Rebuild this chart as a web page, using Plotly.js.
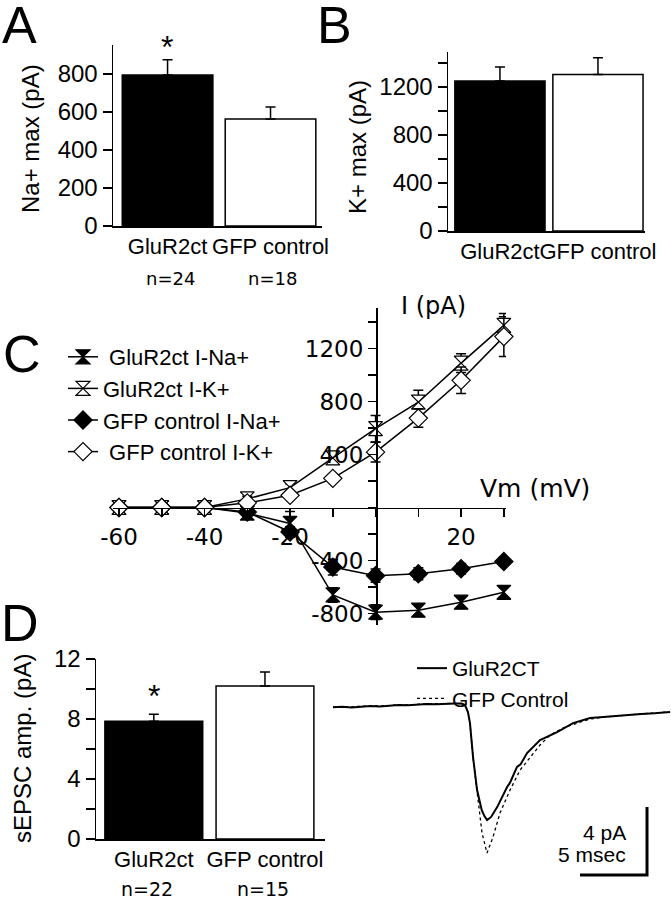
<!DOCTYPE html>
<html>
<head>
<meta charset="utf-8">
<script src="https://cdn.plot.ly/plotly-3.0.1.min.js"></script>
<style>
  body { margin: 0; background: #fff; }
  #plot { width: 671px; height: 899px; }
</style>
</head>
<body>
<div id="plot"></div>
<script>
// bar panels (A, B, D)
var groups = ['GluR2ct', 'GFP control'];
var naMax = [795, 563];
var naMaxErr = [80, 63];
var kMax = [1250, 1305];
var kMaxErr = [117, 140];
var epscAmp = [7.85, 10.2];
var epscErr = [0.47, 0.94];
var nA = ['n=24', 'n=18'];
var nD = ['n=22', 'n=15'];

// I-V curves (C)
var vm = [-60, -50, -40, -30, -20, -10, 0, 10, 20, 30];
var gluNa = [0, 0, 0, -42, -120, -660, -790, -775, -715, -640];
var gluNaErr = [10, 10, 10, 20, 90, 55, 55, 45, 40, 35];
var gluK = [0, 0, 0, 65, 150, 375, 595, 795, 1090, 1375];
var gluKErr = [10, 10, 10, 20, 30, 45, 100, 90, 70, 90];
var gfpNa = [0, 0, 0, -34, -185, -450, -515, -500, -462, -408];
var gfpNaErr = [10, 10, 10, 20, 40, 60, 50, 45, 40, 35];
var gfpK = [0, 0, 0, 35, 92, 220, 418, 675, 960, 1290];
var gfpKErr = [10, 10, 10, 15, 20, 30, 75, 70, 100, 150];

// sEPSC traces (D), ms / pA
var tGlu = [0, 0.7, 1.4, 2.1, 2.8, 3.5, 4.2, 4.9, 5.6, 6.3, 7.0, 7.7, 8.4, 9.1, 9.6, 9.85, 10.07, 10.22, 10.45, 10.75,
            11.1, 11.3, 11.5, 11.8, 12.25, 12.5, 12.99, 13.2, 13.73, 14.0, 14.48, 15.45, 16.72, 17.91, 19.18, 20.4,
            21.64, 23.0, 24.0, 25.15];
var iGlu = [-0.25, -0.22, -0.26, -0.2, -0.18, -0.2, -0.14, -0.12, -0.13, -0.08, -0.06, -0.07, -0.03, -0.02, -0.03, -0.12,
            -0.53, -1.18, -3.18, -5.12, -6.3, -6.65, -6.88, -6.7, -6.12, -5.7, -4.94, -4.7, -3.76, -3.6, -2.94, -2.18,
            -1.71, -1.18, -0.88, -0.8, -0.71, -0.64, -0.6, -0.53];
var tGfp = [0, 0.7, 1.4, 2.1, 2.8, 3.5, 4.2, 4.9, 5.6, 6.3, 7.0, 7.7, 8.4, 9.1, 9.6, 9.85, 10.07, 10.22, 10.45, 10.82,
            11.12, 11.49, 11.94, 12.46, 13.21, 13.96, 14.7, 15.45, 16.19, 17.16, 18.43, 19.18, 20.5, 21.64, 23.0,
            24.0, 25.15];
var iGfp = [-0.22, -0.24, -0.22, -0.19, -0.2, -0.17, -0.15, -0.1, -0.11, -0.07, -0.05, -0.04, -0.02, -0.02, -0.04, -0.13,
            -0.55, -1.2, -3.2, -5.7, -7.65, -8.82, -7.88, -6.47, -5.12, -3.94, -3.18, -2.47, -1.88, -1.47, -1.12,
            -0.94, -0.8, -0.72, -0.64, -0.58, -0.52];
var scaleMs = 5;
var scalePa = 4;

// pixel -> paper helpers
var W = 671, H = 899;
function px(x) { return x / W; }
function py(y) { return 1 - y / H; }

var helv = 'Liberation Sans, Arial, sans-serif';
var verd = 'DejaVu Sans, Verdana, sans-serif';

function barTrace(vals, errs, xa, ya, w) {
  return {
    type: 'bar', x: groups, y: vals, xaxis: xa, yaxis: ya, width: w,
    marker: {color: ['black', 'white'], line: {color: 'black', width: 1.5}},
    error_y: {type: 'data', symmetric: false, array: errs, arrayminus: [0, 0],
              color: 'black', thickness: 1.5, width: 5},
    showlegend: false, hoverinfo: 'skip'
  };
}

function ivTrace(name, y, err, symbol, fill) {
  return {
    type: 'scatter', mode: 'lines+markers', name: name, x: vm, y: y,
    xaxis: 'x3', yaxis: 'y3', cliponaxis: false,
    line: {color: 'black', width: 1.5},
    marker: {symbol: symbol, size: 14, color: fill, line: {color: 'black', width: 1.2}},
    error_y: {type: 'data', array: err, color: 'black', thickness: 1.5, width: 5}
  };
}

var data = [
  barTrace(naMax, naMaxErr, 'x', 'y', 0.88),
  barTrace(kMax, kMaxErr, 'x2', 'y2', 0.92),
  ivTrace('\u00a0GluR2ct I-Na+', gluNa, gluNaErr, 'hourglass', 'black'),
  ivTrace('GluR2ct I-K+', gluK, gluKErr, 'hourglass', 'white'),
  ivTrace('GFP control I-Na+', gfpNa, gfpNaErr, 'diamond', 'black'),
  ivTrace('\u00a0GFP control I-K+', gfpK, gfpKErr, 'diamond', 'white'),
  barTrace(epscAmp, epscErr, 'x4', 'y4', 0.88),
  {type: 'scatter', mode: 'lines', name: 'GluR2CT', x: tGlu, y: iGlu, xaxis: 'x5', yaxis: 'y5',
   legend: 'legend2', line: {color: 'black', width: 2}},
  {type: 'scatter', mode: 'lines', name: 'GFP Control', x: tGfp, y: iGfp, xaxis: 'x5', yaxis: 'y5',
   legend: 'legend2', line: {color: 'black', width: 1.3, dash: 'dot'}},
  {type: 'scatter', mode: 'lines', x: [23.43 - scaleMs, 23.43, 23.43], y: [-10.12, -10.12, -10.12 + scalePa],
   xaxis: 'x5', yaxis: 'y5', cliponaxis: false, showlegend: false, hoverinfo: 'skip',
   line: {color: 'black', width: 3}}
];

var tickFont = {family: helv, size: 24, color: 'black'};
var catFont = {family: helv, size: 22, color: 'black'};
var ivFont = {family: verd, size: 23, color: 'black'};
function baseAxis(extra) {
  var a = {showgrid: false, zeroline: false, showline: true, linecolor: 'black', linewidth: 1.5,
           tickfont: tickFont, tickcolor: 'black', tickwidth: 1.5, fixedrange: true, tickangle: 0};
  for (var k in extra) a[k] = extra[k];
  return a;
}
function ticks(lo, hi, step, every) {
  var v = [], t = [];
  for (var x = lo; x <= hi; x += step) { v.push(x); t.push(x % every === 0 ? String(x) : ''); }
  return {tickvals: v, ticktext: t};
}
var tA = ticks(0, 800, 200, 200);
var tB = ticks(0, 1400, 200, 400);
var tD = ticks(0, 12, 2, 4);
var tCy = ticks(-800, 1400, 200, 400);
tCy.ticktext[4] = '';
var tCx = {tickvals: vm, ticktext: ['-60', '', '-40', '', '-20', '', '', '', '20', '']};

var layout = {
  width: W, height: H, margin: {l: 0, r: 0, t: 0, b: 0},
  paper_bgcolor: 'white', plot_bgcolor: 'rgba(0,0,0,0)',
  font: {family: helv, color: 'black'},
  showlegend: true,
  xaxis: baseAxis({domain: [px(113), px(322)], range: [-0.53, 1.5], anchor: 'y', ticks: '', tickfont: catFont}),
  yaxis: baseAxis({domain: [py(226), py(45)], range: [0, 953], anchor: 'x', ticks: 'outside', ticklen: 9,
                   tickmode: 'array', tickvals: tA.tickvals, ticktext: tA.ticktext}),
  xaxis2: baseAxis({domain: [px(448), px(645)], range: [-0.53, 1.48], anchor: 'y2', ticks: '', tickfont: catFont}),
  yaxis2: baseAxis({domain: [py(231), py(52)], range: [0, 1492], anchor: 'x2', ticks: 'outside', ticklen: 9,
                    tickmode: 'array', tickvals: tB.tickvals, ticktext: tB.ticktext}),
  xaxis3: baseAxis({domain: [px(113), px(506)], range: [-61.4, 30.5], anchor: 'free', position: py(507.5),
                    ticks: 'outside', ticklen: 8, tickmode: 'array', tickvals: tCx.tickvals, ticktext: tCx.ticktext,
                    tickfont: ivFont}),
  yaxis3: baseAxis({domain: [py(625), py(308)], range: [-887, 1506], anchor: 'free', position: px(376),
                    ticks: 'outside', ticklen: 8, tickmode: 'array', tickvals: tCy.tickvals, ticktext: tCy.ticktext,
                    tickfont: ivFont}),
  xaxis4: baseAxis({domain: [px(96), px(325)], range: [-0.52, 1.54], anchor: 'y4', ticks: '', tickfont: catFont}),
  yaxis4: baseAxis({domain: [py(839), py(659)], range: [0, 12], anchor: 'x4', ticks: 'outside', ticklen: 9,
                    tickmode: 'array', tickvals: tD.tickvals, ticktext: tD.ticktext}),
  xaxis5: {domain: [px(333), 1], range: [0, 25.22], anchor: 'y5', visible: false, fixedrange: true},
  yaxis5: {domain: [py(880), py(650)], range: [-10.41, 3.12], anchor: 'x5', visible: false, fixedrange: true},
  legend: {x: px(63), y: py(336), xanchor: 'left', yanchor: 'top', bgcolor: 'rgba(0,0,0,0)',
           font: {family: helv, size: 22, color: 'black'}, tracegroupgap: 0},
  legend2: {x: px(412), y: py(648), xanchor: 'left', yanchor: 'top', bgcolor: 'rgba(0,0,0,0)',
            font: {family: helv, size: 21, color: 'black'}, tracegroupgap: 0},
  annotations: []
};

function note(text, x, y, size, family, extra) {
  var a = {text: text, x: px(x), y: py(y), xref: 'paper', yref: 'paper', showarrow: false,
           xanchor: 'center', yanchor: 'middle', font: {family: family || helv, size: size, color: 'black'}};
  for (var k in extra) a[k] = extra[k];
  layout.annotations.push(a);
}

// panel letters
note('A', 19, 25, 52);
note('B', 334, 25, 52);
note('C', 22, 354, 52);
note('D', 20, 623, 52);
// axis titles
note('Na+ max (pA)', 30, 139, 24, helv, {textangle: -90});
note('K+ max (pA)', 358, 147, 24, helv, {textangle: -90});
note('sEPSC amp. (pA)', 22, 749, 24, helv, {textangle: -90});
note('I (pA)', 433, 306, 24, verd);
note('Vm (mV)', 535, 488, 25, verd);
// significance
note('*', 167, 47, 32);
note('*', 154, 696, 32);
// n values
note(nA[0], 170, 278, 18, verd);
note(nA[1], 272, 278, 18, verd);
note(nD[0], 147, 889, 19, verd);
note(nD[1], 263, 889, 19, verd);
// scale bar labels
note('4 pA', 628, 832, 21, helv, {xanchor: 'right'});
note('5 msec', 628, 854, 21, helv, {xanchor: 'right'});

Plotly.newPlot('plot', data, layout, {staticPlot: true});
</script>
</body>
</html>
